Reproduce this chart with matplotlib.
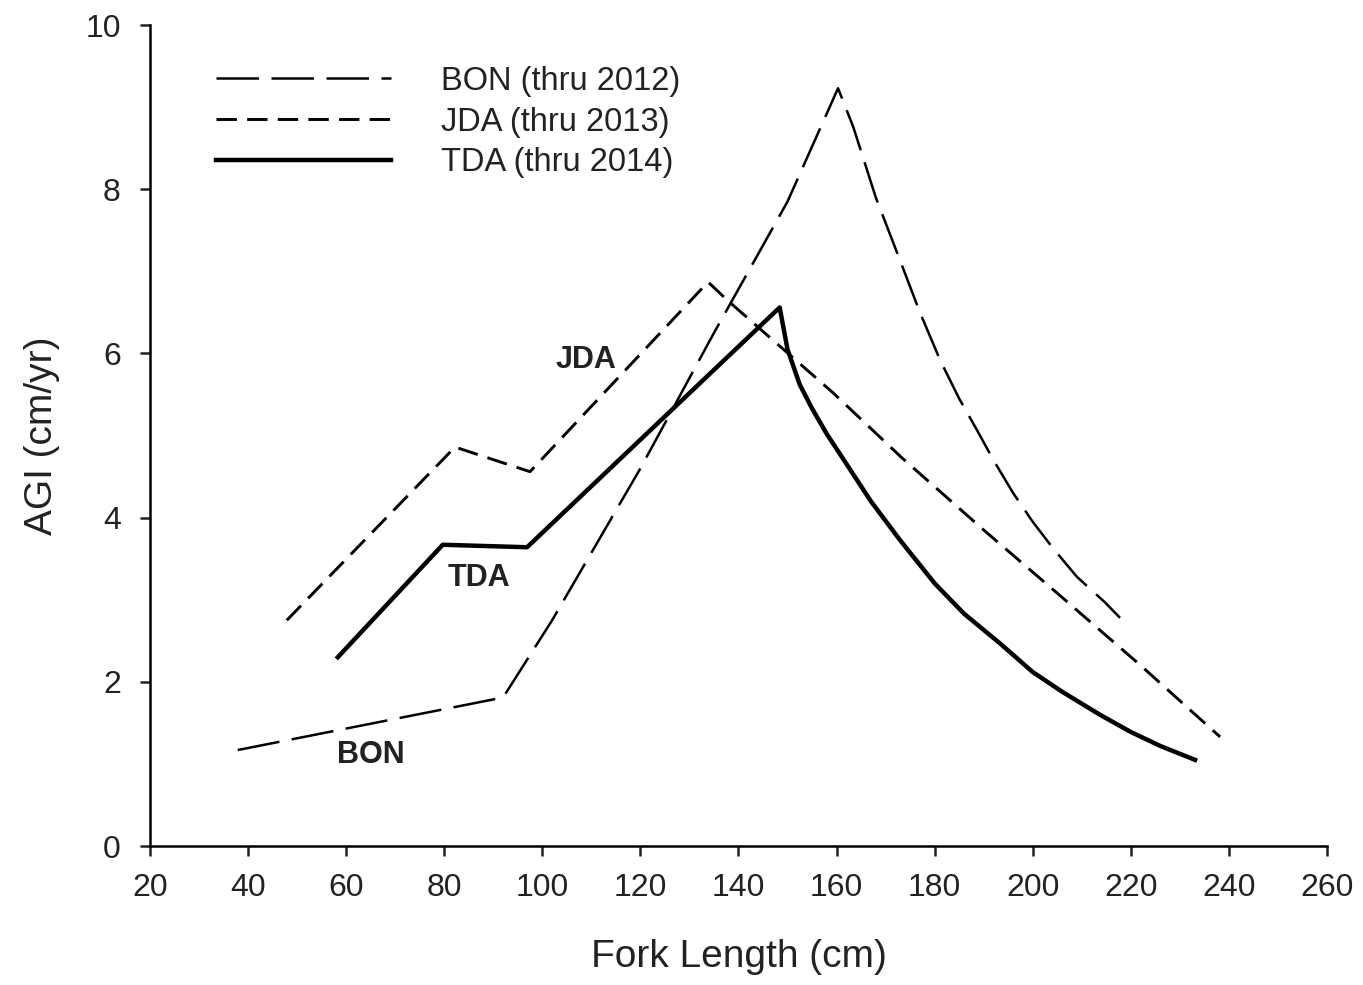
import matplotlib
matplotlib.use("Agg")
import matplotlib.pyplot as plt

plt.rcParams['font.family'] = ['Liberation Sans', 'DejaVu Sans']

# BON (thru 2012)
bon_x = [37.9, 92.0, 102.0, 120.0, 135.0, 150.0, 160.3, 163.4, 168.0, 172.9, 177.0, 181.1,
         185.0, 188.6, 192.0, 196.0, 200.0, 204.1, 209.0, 214.7, 217.8]
bon_y = [1.17, 1.81, 2.75, 4.60, 6.25, 7.85, 9.23, 8.76, 7.90, 7.14, 6.50, 5.92,
         5.45, 5.07, 4.70, 4.30, 3.95, 3.63, 3.28, 2.97, 2.78]

# JDA (thru 2013)
jda_x = [47.9, 82.2, 97.5, 133.8, 137.7, 159.3, 173.3, 190.0, 205.0, 222.0, 238.2]
jda_y = [2.75, 4.86, 4.56, 6.87, 6.65, 5.52, 4.73, 3.85, 3.08, 2.20, 1.33]

# TDA (thru 2014)
tda_x = [58.3, 79.7, 96.9, 148.4, 150.0, 152.5, 155.0, 158.0, 161.3, 167.0, 172.9, 180.0,
         186.0, 193.3, 200.0, 206.0, 213.7, 220.0, 226.0, 233.1]
tda_y = [2.30, 3.67, 3.64, 6.56, 6.05, 5.62, 5.33, 5.02, 4.72, 4.20, 3.73, 3.20,
         2.83, 2.47, 2.12, 1.88, 1.60, 1.39, 1.22, 1.05]

fig = plt.figure(figsize=(13.63, 9.85), dpi=100)
ax = fig.add_axes([0.110, 0.141, 0.8636, 0.8336])

ax.plot(bon_x, bon_y, color='black', lw=1.8, dashes=(17, 5), label='BON (thru 2012)')
ax.plot(jda_x, jda_y, color='black', lw=2.1, dashes=(7, 3.5), label='JDA (thru 2013)')
ax.plot(tda_x, tda_y, color='black', lw=3.2, label='TDA (thru 2014)')

ax.text(109, 5.92, 'JDA', fontsize=22, fontweight='bold', ha='center', va='center', color='#222222')
ax.text(87, 3.26, 'TDA', fontsize=22, fontweight='bold', ha='center', va='center', color='#222222')
ax.text(65, 1.11, 'BON', fontsize=22, fontweight='bold', ha='center', va='center', color='#222222')

ax.set_xlim(20, 260)
ax.set_ylim(0, 10)
ax.set_xticks(range(20, 261, 20))
ax.set_yticks(range(0, 11, 2))
ax.spines['top'].set_visible(False)
ax.spines['right'].set_visible(False)
ax.spines['left'].set_linewidth(1.8)
ax.spines['bottom'].set_linewidth(1.8)
ax.tick_params(direction='out', length=7, width=1.8, labelsize=23, colors='#222222')
ax.tick_params(axis='x', pad=12)
ax.tick_params(axis='y', pad=14)

ax.set_xlabel('Fork Length (cm)', fontsize=28, color='#222222', labelpad=26)
ax.set_ylabel('AGI (cm/yr)', fontsize=28, color='#222222', labelpad=18)

ax.legend(loc='upper left', bbox_to_anchor=(0.0315, 0.986), frameon=False, fontsize=23.5,
          handlelength=5.35, handletextpad=1.53, labelspacing=0.30, labelcolor='#222222')

fig.savefig('out.png', dpi=100)
